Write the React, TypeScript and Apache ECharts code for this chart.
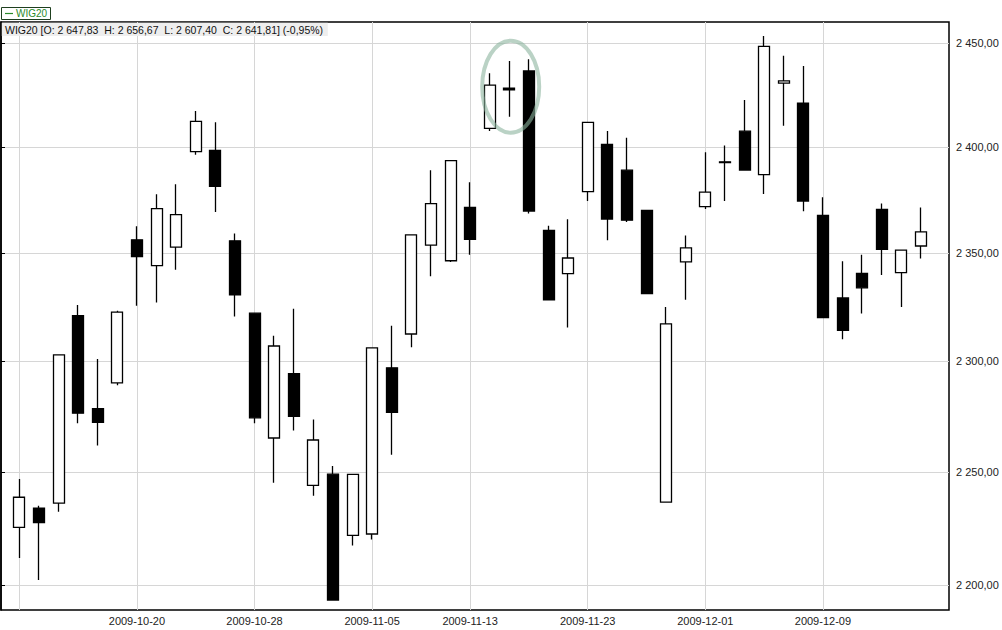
import React, { useEffect, useRef } from "react";
import * as echarts from "echarts";

const dates = [
  "2009-10-12", "2009-10-13", "2009-10-14", "2009-10-15", "2009-10-16",
  "2009-10-19", "2009-10-20", "2009-10-21", "2009-10-22", "2009-10-23",
  "2009-10-26", "2009-10-27", "2009-10-28", "2009-10-29", "2009-10-30",
  "2009-11-02", "2009-11-03", "2009-11-04", "2009-11-05", "2009-11-06",
  "2009-11-09", "2009-11-10", "2009-11-12", "2009-11-13",
  "2009-11-16", "2009-11-17", "2009-11-18", "2009-11-19", "2009-11-20",
  "2009-11-23", "2009-11-24", "2009-11-25", "2009-11-26", "2009-11-27",
  "2009-11-30", "2009-12-01", "2009-12-02", "2009-12-03", "2009-12-04",
  "2009-12-07", "2009-12-08", "2009-12-09", "2009-12-10", "2009-12-11",
  "2009-12-14", "2009-12-15", "2009-12-16",
];

const opens = [
  2225.3, 2233.8, 2236.1, 2320.9, 2278.5, 2290.2, 2356.2, 2344.1, 2352.8, 2397.8,
  2398.4, 2355.7, 2322.1, 2265.2, 2294.4, 2244.0, 2249.0, 2221.8, 2222.4, 2297.0,
  2312.5, 2353.7, 2346.4, 2371.4, 2408.9, 2428.3, 2436.6, 2360.6, 2340.4, 2378.9,
  2401.3, 2389.0, 2370.0, 2236.5, 2345.9, 2371.8, 2393.0, 2407.6, 2386.9, 2430.7,
  2421.1, 2367.7, 2329.1, 2340.5, 2370.5, 2340.9, 2353.3,
];

const closes = [
  2238.7, 2227.5, 2302.9, 2276.4, 2272.3, 2322.6, 2348.4, 2370.8, 2368.0, 2412.3,
  2381.3, 2330.6, 2274.3, 2307.0, 2275.0, 2264.3, 2193.4, 2248.9, 2306.1, 2276.8,
  2358.5, 2373.2, 2393.6, 2356.4, 2429.7, 2427.5, 2369.7, 2328.3, 2347.7, 2411.8,
  2365.9, 2365.4, 2331.1, 2317.2, 2352.4, 2378.6, 2392.6, 2389.1, 2448.5, 2431.8,
  2374.4, 2320.1, 2314.2, 2333.8, 2351.7, 2351.4, 2359.9,
];

const lows = [
  2211.8, 2202.2, 2232.3, 2271.8, 2261.8, 2289.1, 2325.5, 2327.0, 2342.2, 2396.4,
  2369.2, 2320.6, 2271.8, 2245.1, 2268.6, 2239.4, 2193.4, 2217.3, 2220.0, 2257.7,
  2306.4, 2339.2, 2345.8, 2349.2, 2407.7, 2414.5, 2368.5, 2328.3, 2315.5, 2374.4,
  2356.0, 2364.5, 2331.1, 2236.5, 2328.3, 2370.6, 2374.4, 2389.1, 2377.7, 2410.2,
  2369.6, 2320.1, 2310.1, 2321.9, 2339.8, 2324.9, 2347.5,
];

const highs = [
  2246.8, 2234.9, 2302.9, 2325.9, 2301.1, 2323.2, 2362.5, 2377.6, 2382.3, 2417.3,
  2411.9, 2359.1, 2322.3, 2311.7, 2324.1, 2273.5, 2252.6, 2248.9, 2306.1, 2316.3,
  2358.5, 2389.0, 2393.6, 2383.3, 2435.5, 2441.4, 2442.3, 2362.8, 2365.8, 2411.8,
  2407.7, 2404.4, 2370.0, 2325.0, 2358.2, 2397.5, 2400.8, 2422.6, 2453.6, 2443.9,
  2439.0, 2376.2, 2346.2, 2349.2, 2373.3, 2351.4, 2371.4,
];

const priceTicks = [2200, 2250, 2300, 2350, 2400, 2450];
const gridDates = [
  "2009-10-12", "2009-10-20", "2009-10-28", "2009-11-05",
  "2009-11-13", "2009-11-23", "2009-12-01", "2009-12-09",
];
const labelDates = gridDates.slice(1);

const seriesName = "WIG20";
const headerText =
  "WIG20 [O: 2 647,83  H: 2 656,67  L: 2 607,40  C: 2 641,81] (-0,95%)";

const FONT = "'Liberation Sans', Arial, sans-serif";

function fmtPrice(v: number): string {
  const s = (Math.round(v * 100) / 100).toFixed(2);
  const [i, d] = s.split(".");
  return i.replace(/\B(?=(\d{3})+(?!\d))/g, " ") + "," + d;
}

export default function App() {
  const ref = useRef<HTMLDivElement>(null);

  useEffect(() => {
    if (!ref.current) return;
    const chart = echarts.init(ref.current, undefined, { renderer: "svg" });
    const yMin = 2189.1;
    const yMax = 2460.4;
    const candleData = dates.map((_, i) => [opens[i], closes[i], lows[i], highs[i]]);

    chart.setOption({
      animation: false,
      backgroundColor: "#ffffff",
      textStyle: { fontFamily: FONT },
      grid: [
        {
          left: 1,
          top: 22,
          right: 53,
          bottom: 20,
          show: true,
          borderColor: "#000000",
          borderWidth: 1.5,
          backgroundColor: "transparent",
          containLabel: false,
        },
        {
          left: 9.5,
          top: 22,
          right: 71.3,
          bottom: 20,
          containLabel: false,
        },
      ],
      xAxis: [
        { type: "value", gridIndex: 0, show: false, min: 0, max: 1 },
        {
          type: "category",
          gridIndex: 1,
          data: dates,
          boundaryGap: true,
          axisLine: { show: false },
          axisTick: { show: false },
          axisLabel: {
            interval: (_i: number, v: string) => labelDates.includes(v),
            fontSize: 11,
            color: "#222222",
            fontFamily: FONT,
            margin: 5,
          },
          splitLine: {
            show: true,
            alignWithLabel: true,
            interval: (_i: number, v: string) => gridDates.includes(v),
            lineStyle: { color: "#d6d6d6", width: 1 },
          },
        },
      ],
      yAxis: [
        {
          type: "log",
          gridIndex: 0,
          position: "right",
          min: yMin,
          max: yMax,
          axisLine: { show: true, lineStyle: { color: "#000000", width: 1.5 } },
          axisTick: {
            show: true,
            length: 4,
            customValues: priceTicks,
            lineStyle: { color: "#000000", width: 1 },
          },
          axisLabel: {
            customValues: priceTicks,
            formatter: (v: number) => fmtPrice(v),
            fontSize: 11,
            color: "#222222",
            fontFamily: FONT,
            margin: 7,
          },
          splitLine: { show: true, lineStyle: { color: "#d6d6d6", width: 1 } },
        },
        {
          type: "log",
          gridIndex: 1,
          min: yMin,
          max: yMax,
          show: false,
          splitLine: { show: false },
        },
      ],
      series: [
        {
          name: seriesName,
          type: "candlestick",
          xAxisIndex: 1,
          yAxisIndex: 1,
          data: candleData,
          barWidth: 11.5,
          z: 5,
          itemStyle: {
            color: "#ffffff",
            color0: "#000000",
            borderColor: "#000000",
            borderColor0: "#000000",
            borderWidth: 1.3,
          },
        },
      ],
      graphic: [
        {
          type: "rect",
          z: 100,
          shape: { x: 1.5, y: 7.5, width: 49, height: 12 },
          style: { fill: "#ffffff", stroke: "#1e3f1e", lineWidth: 1 },
        },
        {
          type: "line",
          z: 101,
          shape: { x1: 5, y1: 13.5, x2: 13, y2: 13.5 },
          style: { stroke: "#2a8a2a", lineWidth: 1.2 },
        },
        {
          type: "text",
          z: 101,
          x: 16,
          y: 13.8,
          style: {
            text: seriesName,
            fill: "#2a8a2a",
            font: "10px " + FONT,
            verticalAlign: "middle",
          },
        },
        {
          type: "rect",
          z: 100,
          shape: { x: 1.8, y: 22.8, width: 326, height: 13.2 },
          style: { fill: "#eeeeee" },
        },
        {
          type: "text",
          z: 101,
          x: 5,
          y: 29.8,
          style: {
            text: headerText,
            fill: "#111111",
            font: "10.5px " + FONT,
            verticalAlign: "middle",
          },
        },
        {
          type: "ellipse",
          z: 100,
          shape: { cx: 510.7, cy: 86.7, rx: 28.5, ry: 46 },
          style: { fill: "none", stroke: "rgba(140,180,158,0.6)", lineWidth: 4 },
        },
      ],
    });

    return () => chart.dispose();
  }, []);

  return (
    <div
      ref={ref}
      style={{ position: "absolute", left: 0, top: 0, width: 1002, height: 630, background: "#fff" }}
    />
  );
}
